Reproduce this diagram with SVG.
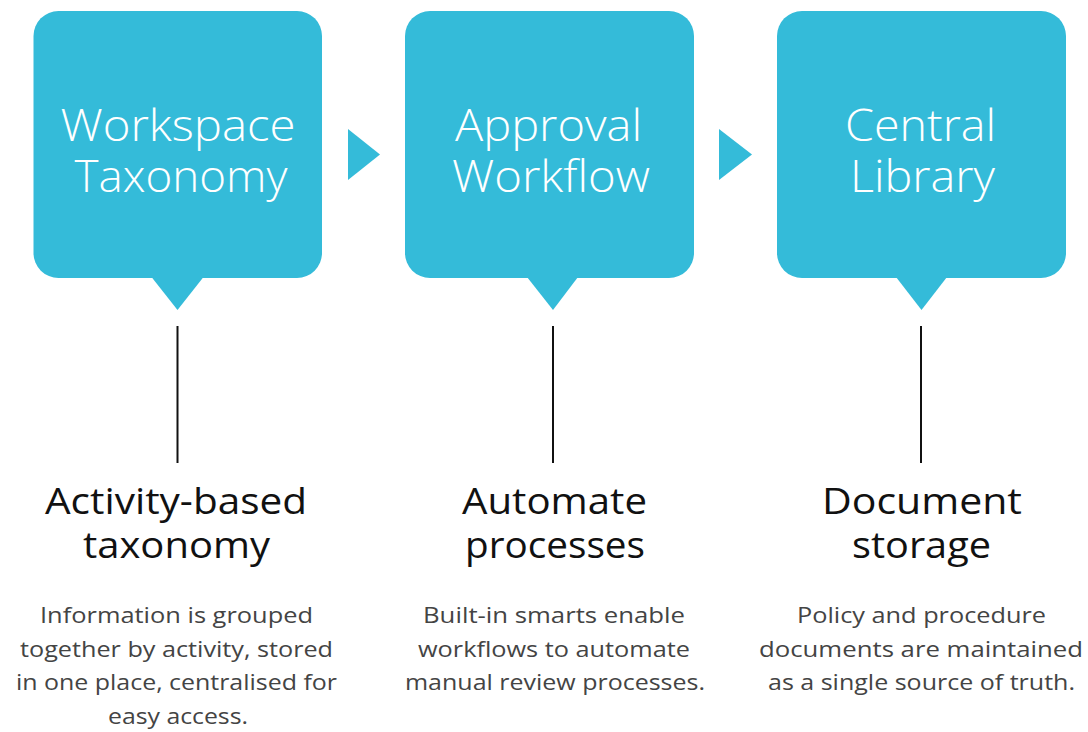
<svg xmlns="http://www.w3.org/2000/svg" width="1088" height="732" viewBox="0 0 1088 732">
  <style>
    .box { fill: #34BBD9; }
    .title { font-family: "Open Sans", "DejaVu Sans", sans-serif; font-weight: 300; font-size: 45px; fill: #ffffff; text-anchor: middle; }
    .head { font-family: "Open Sans", "DejaVu Sans", sans-serif; font-weight: 400; font-size: 37px; fill: #111111; text-anchor: middle; }
    .body { font-family: "Open Sans", "DejaVu Sans", sans-serif; font-weight: 400; font-size: 22.5px; fill: #444444; text-anchor: middle; }
    .conn { stroke: #111111; stroke-width: 2; fill: none; }
    .arrow { fill: #34BBD9; }
  </style>
  <rect width="1088" height="732" fill="#ffffff"/>

  <g id="connectors">
    <polygon class="arrow" points="348,129 380,154.5 348,180"/>
    <polygon class="arrow" points="719,129 752,154.5 719,180"/>
    <line class="conn" x1="177.5" y1="326" x2="177.5" y2="463"/>
    <line class="conn" x1="553" y1="326" x2="553" y2="463"/>
    <line class="conn" x1="921" y1="326" x2="921" y2="463"/>
  </g>

  <g id="node-workspace-taxonomy">
    <rect class="box" x="33.5" y="11" width="288.5" height="267" rx="25"/>
    <polygon class="box" points="151.5,277 203.5,277 177.5,310"/>
    <text class="title" x="178" y="141" textLength="235" lengthAdjust="spacingAndGlyphs">Workspace</text>
    <text class="title" x="181" y="192" textLength="213" lengthAdjust="spacingAndGlyphs">Taxonomy</text>
  </g>

  <g id="node-approval-workflow">
    <rect class="box" x="405" y="11" width="289" height="267" rx="25"/>
    <polygon class="box" points="527,277 578,277 553,310"/>
    <text class="title" x="548.5" y="141" textLength="187" lengthAdjust="spacingAndGlyphs">Approval</text>
    <text class="title" x="551" y="192" textLength="198" lengthAdjust="spacingAndGlyphs">Workflow</text>
  </g>

  <g id="node-central-library">
    <rect class="box" x="777" y="11" width="289" height="267" rx="25"/>
    <polygon class="box" points="896,277 947,277 921.5,310"/>
    <text class="title" x="920.5" y="141" textLength="151" lengthAdjust="spacingAndGlyphs">Central</text>
    <text class="title" x="922.5" y="192" textLength="145" lengthAdjust="spacingAndGlyphs">Library</text>
  </g>

  <g id="label-activity">
    <text class="head" x="176" y="514" textLength="262" lengthAdjust="spacingAndGlyphs">Activity-based</text>
    <text class="head" x="176.5" y="558" textLength="187" lengthAdjust="spacingAndGlyphs">taxonomy</text>
    <text class="body" x="176.5" y="623" textLength="273" lengthAdjust="spacingAndGlyphs">Information is grouped</text>
    <text class="body" x="176.5" y="657" textLength="313" lengthAdjust="spacingAndGlyphs">together by activity, stored</text>
    <text class="body" x="176.5" y="690" textLength="321" lengthAdjust="spacingAndGlyphs">in one place, centralised for</text>
    <text class="body" x="178" y="724" textLength="140" lengthAdjust="spacingAndGlyphs">easy access.</text>
  </g>

  <g id="label-automate">
    <text class="head" x="554.5" y="514" textLength="185" lengthAdjust="spacingAndGlyphs">Automate</text>
    <text class="head" x="555" y="558" textLength="180" lengthAdjust="spacingAndGlyphs">processes</text>
    <text class="body" x="554" y="623" textLength="262" lengthAdjust="spacingAndGlyphs">Built-in smarts enable</text>
    <text class="body" x="554" y="657" textLength="272" lengthAdjust="spacingAndGlyphs">workflows to automate</text>
    <text class="body" x="555" y="690" textLength="300" lengthAdjust="spacingAndGlyphs">manual review processes.</text>
  </g>

  <g id="label-document">
    <text class="head" x="922" y="514" textLength="200" lengthAdjust="spacingAndGlyphs">Document</text>
    <text class="head" x="921.5" y="558" textLength="139" lengthAdjust="spacingAndGlyphs">storage</text>
    <text class="body" x="921.5" y="623" textLength="249" lengthAdjust="spacingAndGlyphs">Policy and procedure</text>
    <text class="body" x="921" y="657" textLength="324" lengthAdjust="spacingAndGlyphs">documents are maintained</text>
    <text class="body" x="921.5" y="690" textLength="307" lengthAdjust="spacingAndGlyphs">as a single source of truth.</text>
  </g>
</svg>
